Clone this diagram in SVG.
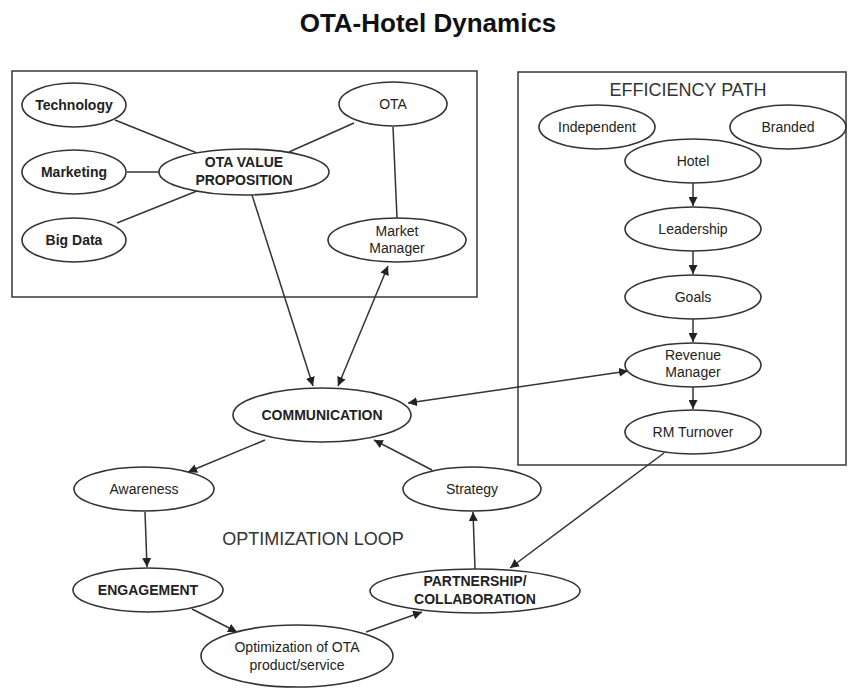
<svg xmlns="http://www.w3.org/2000/svg" width="848" height="688" viewBox="0 0 848 688">
<defs>
<style>
.bg{fill:#ffffff}
.box{fill:none;stroke:#444;stroke-width:1.6}
.n{fill:#ffffff;stroke:#333;stroke-width:1.6}
.c{fill:none;stroke:#333;stroke-width:1.5}
.a{fill:none;stroke:#333;stroke-width:1.5;marker-end:url(#ah)}
.d{fill:none;stroke:#333;stroke-width:1.5;marker-end:url(#ah);marker-start:url(#ah)}
.t{font-family:"Liberation Sans",Arial,sans-serif;font-size:14px;fill:#222;text-anchor:middle}
.b{font-weight:bold}
.title{font-family:"Liberation Sans",Arial,sans-serif;font-size:26px;font-weight:bold;fill:#111;text-anchor:middle}
.lab{font-family:"Liberation Sans",Arial,sans-serif;font-size:18px;fill:#333;text-anchor:middle}
</style>
<marker id="ah" viewBox="0 0 10 10" refX="10" refY="5" markerWidth="9" markerHeight="9" markerUnits="userSpaceOnUse" orient="auto-start-reverse">
<path d="M0,0 L10,5 L0,10 z" fill="#222"/>
</marker>
</defs>
<rect class="bg" x="0" y="0" width="848" height="688"/>
<text class="title" x="428" y="32">OTA-Hotel Dynamics</text>
<rect class="box" x="12" y="71" width="465" height="226"/>
<rect class="box" x="518" y="72" width="328" height="393"/>
<text class="lab" x="688" y="96">EFFICIENCY PATH</text>
<text class="lab" x="313" y="545">OPTIMIZATION LOOP</text>

<g id="connectors">
<line class="c" x1="115" y1="120" x2="197" y2="153"/>
<line class="c" x1="127" y1="172" x2="159" y2="172"/>
<line class="c" x1="117" y1="223" x2="197" y2="191"/>
<line class="c" x1="354" y1="123" x2="289" y2="152"/>
<line class="c" x1="393" y1="127" x2="397" y2="218"/>
<line class="a" x1="252" y1="195" x2="313" y2="386"/>
<line class="d" x1="338" y1="386" x2="388" y2="266"/>
<line class="d" x1="408" y1="403" x2="628" y2="371"/>
<line class="a" x1="664" y1="453" x2="510" y2="568"/>
<line class="a" x1="693" y1="183" x2="693" y2="206"/>
<line class="a" x1="693" y1="251" x2="693" y2="274"/>
<line class="a" x1="693" y1="319" x2="693" y2="342"/>
<line class="a" x1="693" y1="387" x2="693" y2="409"/>
<line class="a" x1="265" y1="440" x2="188" y2="472"/>
<line class="a" x1="145" y1="512" x2="147" y2="567"/>
<line class="a" x1="192" y1="609" x2="237" y2="632"/>
<line class="a" x1="366" y1="632" x2="422" y2="612"/>
<line class="a" x1="475" y1="569" x2="473" y2="512"/>
<line class="a" x1="432" y1="470" x2="374" y2="440"/>
</g>

<g id="technology"><ellipse class="n" cx="74" cy="105" rx="52" ry="22"/><text class="t b" x="74" y="110">Technology</text></g>
<g id="marketing"><ellipse class="n" cx="74" cy="172" rx="52" ry="22"/><text class="t b" x="74" y="177">Marketing</text></g>
<g id="bigdata"><ellipse class="n" cx="74" cy="240" rx="52" ry="22"/><text class="t b" x="74" y="245">Big Data</text></g>
<g id="otavp"><ellipse class="n" cx="244" cy="172" rx="85" ry="23"/><text class="t b" x="244" y="167">OTA VALUE</text><text class="t b" x="244" y="185">PROPOSITION</text></g>
<g id="ota"><ellipse class="n" cx="393" cy="104" rx="54" ry="22"/><text class="t" x="393" y="109">OTA</text></g>
<g id="marketmanager"><ellipse class="n" cx="397" cy="240" rx="69" ry="22"/><text class="t" x="397" y="236">Market</text><text class="t" x="397" y="253">Manager</text></g>

<g id="hotel"><ellipse class="n" cx="693" cy="161" rx="68" ry="22"/><text class="t" x="693" y="166">Hotel</text></g>
<g id="independent"><ellipse class="n" cx="597" cy="127" rx="58" ry="22" style="fill:none"/><text class="t" x="597" y="132">Independent</text></g>
<g id="branded"><ellipse class="n" cx="788" cy="127" rx="58" ry="22" style="fill:none"/><text class="t" x="788" y="132">Branded</text></g>
<g id="leadership"><ellipse class="n" cx="693" cy="229" rx="68" ry="22"/><text class="t" x="693" y="234">Leadership</text></g>
<g id="goals"><ellipse class="n" cx="693" cy="297" rx="68" ry="22"/><text class="t" x="693" y="302">Goals</text></g>
<g id="revenuemanager"><ellipse class="n" cx="693" cy="365" rx="68" ry="22"/><text class="t" x="693" y="360">Revenue</text><text class="t" x="693" y="377">Manager</text></g>
<g id="rmturnover"><ellipse class="n" cx="693" cy="432" rx="68" ry="22"/><text class="t" x="693" y="437">RM Turnover</text></g>

<g id="communication"><ellipse class="n" cx="322" cy="415" rx="89" ry="27"/><text class="t b" x="322" y="420">COMMUNICATION</text></g>
<g id="awareness"><ellipse class="n" cx="144" cy="489" rx="70" ry="22"/><text class="t" x="144" y="494">Awareness</text></g>
<g id="strategy"><ellipse class="n" cx="472" cy="489" rx="69" ry="22"/><text class="t" x="472" y="494">Strategy</text></g>
<g id="engagement"><ellipse class="n" cx="148" cy="590" rx="75" ry="22"/><text class="t b" x="148" y="595">ENGAGEMENT</text></g>
<g id="partnership"><ellipse class="n" cx="475" cy="591" rx="105" ry="22"/><text class="t b" x="475" y="586">PARTNERSHIP/</text><text class="t b" x="475" y="604">COLLABORATION</text></g>
<g id="optimization"><ellipse class="n" cx="297" cy="656" rx="96" ry="31"/><text class="t" x="297" y="652">Optimization of OTA</text><text class="t" x="297" y="670">product/service</text></g>
</svg>
